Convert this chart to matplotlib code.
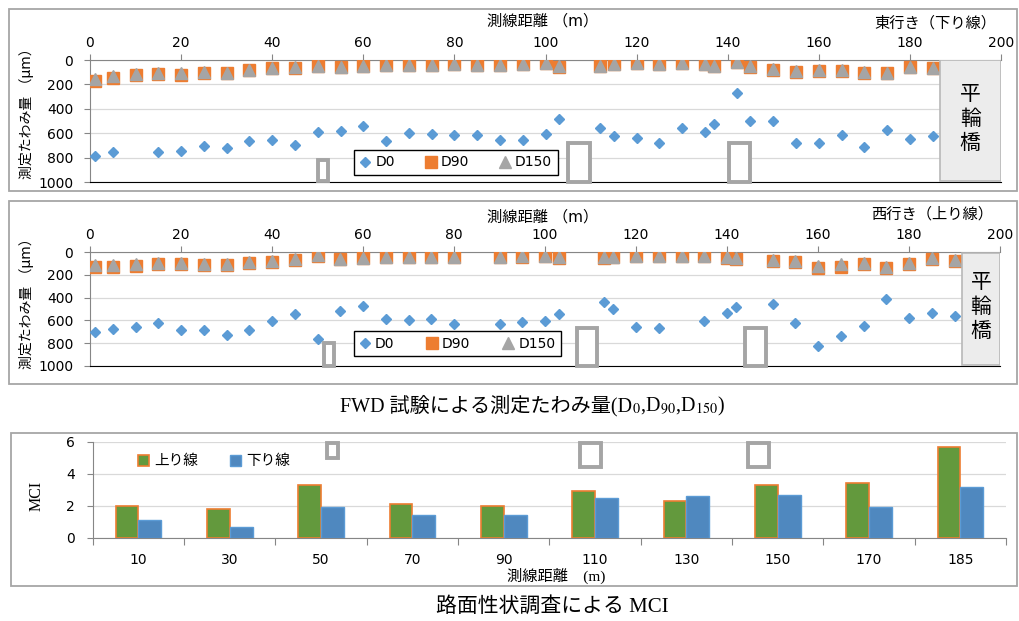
import numpy as np
import matplotlib.pyplot as plt
from matplotlib.patches import Rectangle
from matplotlib.lines import Line2D

plt.rcParams['font.family'] = ['DejaVu Sans', 'Noto Sans CJK JP']
plt.rcParams['mathtext.fontset'] = 'stix'

nan = np.nan

#----------------------------------
# 東行き（下り線） FWD deflections (um)
east_x = [1, 5, 10, 15, 20, 25, 30, 35, 40, 45, 50, 55, 60, 65, 70, 75, 80, 85, 90, 95, 100,
          103, 112, 115, 120, 125, 130, 135, 137, 142, 145, 150, 155, 160, 165, 170, 175, 180, 185]
east_d0 = [790, 755, nan, 755, 744, 709, 722, 668, 654, 695, 591, 578, 540, 660, 602, 605, 616, 613, 652, 652, 605,
           485, 559, 627, 640, 681, 559, 594, 526, 267, 499, 499, 681, 681, 613, 711, 575, 649, 621]
east_d90 = [172, 145, 123, 117, 123, 104, 109, 85, 68, 63, 49, 60, 49, 41, 44, 41, 33, 38, 41, 33, 27,
            55, 49, 33, 27, 33, 27, 33, 46, 19, 60, 82, 96, 90, 87, 109, 109, 55, 63]
east_d150 = [153, 131, 114, 109, 109, 96, 104, 83, 63, 55, 46, 55, 46, 41, 44, 41, 35, 38, 41, 33, 27,
             49, 49, 33, 27, 33, 27, 33, 46, 19, 52, 74, 87, 82, 82, 98, 104, 55, 63]

# 西行き（上り線）
west_x = [1, 5, 10, 15, 20, 25, 30, 35, 40, 45, 50, 55, 60, 65, 70, 75, 80, 90, 95, 100, 103,
          113, 115, 120, 125, 130, 135, 140, 142, 150, 155, 160, 165, 170, 175, 180, 185, 190]
west_d0 = [700, 676, 659, 624, 682, 685, 729, 685, 606, 544, 762, 515, 471, 588, 597, 591, 632, 635, 612, 603, 547,
           441, 500, 659, 665, nan, 603, 538, 479, 459, 626, 826, 735, 647, 409, 582, 532, 559]
west_d90 = [126, 126, 118, 103, 103, 112, 112, 94, 82, 65, 32, 62, 53, 44, 44, 44, 41, 41, 38, 35, 47,
            47, 41, 35, 35, 35, 35, 47, 62, 76, 85, 135, 126, 106, 141, 106, 62, 76]
west_d150 = [112, 115, 106, 94, 94, 103, 100, 85, 74, 59, 26, 59, 47, 41, 41, 41, 38, 38, 32, 29, 38,
             41, 38, 32, 32, 32, 32, 41, 53, 68, 76, 121, 106, 94, 126, 97, 53, 71]

# MCI
mci_labels = ['10', '30', '50', '70', '90', '110', '130', '150', '170', '185']
mci_up = [2.0, 1.8, 3.3, 2.1, 2.0, 2.9, 2.3, 3.3, 3.4, 5.7]
mci_down = [1.1, 0.7, 1.9, 1.4, 1.4, 2.5, 2.6, 2.7, 1.9, 3.2]

W, H = 1019, 621
fig = plt.figure(figsize=(W / 100, H / 100), dpi=100)


def fx(px):
    return px / W


def fy(py):
    return 1 - py / H


def frame(x0, y0, x1, y1):
    fig.add_artist(Rectangle((fx(x0), fy(y1)), fx(x1) - fx(x0), fy(y0) - fy(y1),
                             transform=fig.transFigure, fill=False, edgecolor='#a6a6a6', lw=1.3))


def gray_box(ax, x0, x1, y0, y1):
    ax.add_patch(Rectangle((x0, y0), x1 - x0, y1 - y0, facecolor='white', edgecolor='#a5a5a5',
                           lw=2.8, zorder=4, clip_on=False))


def deflection_chart(rect, x, d0, d90, d150, bridge_x0, boxes, legend_box):
    ax = fig.add_axes(rect)
    ax.plot(x, d90, 's', color='#ed7d31', ms=8.5, zorder=3)
    ax.plot(x, d150, '^', color='#a5a5a5', ms=8, zorder=3)
    ax.plot(x, d0, 'D', color='#5b9bd5', ms=5.4, zorder=3)
    ax.set_xlim(0, 200)
    ax.set_ylim(1000, 0)
    ax.set_xticks(np.arange(0, 201, 20))
    ax.set_yticks(np.arange(0, 1001, 200))
    ax.xaxis.tick_top()
    ax.tick_params(axis='x', length=4, width=0.8, color='#868686', pad=3.5, labelsize=10)
    ax.tick_params(axis='y', length=4, width=0.8, color='#868686', pad=8, labelsize=10)
    ax.grid(axis='y', color='#d9d9d9', lw=0.9)
    ax.set_axisbelow(True)
    ax.spines['top'].set_color('#868686')
    ax.spines['left'].set_color('#868686')
    ax.spines['right'].set_visible(False)
    ax.spines['bottom'].set_color('black')
    # bridge
    ax.add_patch(Rectangle((bridge_x0, 2), 200 - bridge_x0, 990, facecolor='#ececec',
                           edgecolor='#b8b8b8', lw=1.2, zorder=5))
    ax.text((bridge_x0 + 200) / 2, 480, '平\n輪\n橋', ha='center', va='center', fontsize=15,
            linespacing=1.15, family=['Noto Sans CJK JP'], zorder=6)
    for b in boxes:
        gray_box(ax, *b)
    handles = [Line2D([], [], ls='', marker='D', color='#5b9bd5', ms=5.4),
               Line2D([], [], ls='', marker='s', color='#ed7d31', ms=8.5),
               Line2D([], [], ls='', marker='^', color='#a5a5a5', ms=8)]
    leg = ax.legend(handles, ['D0', 'D90', 'D150'], ncol=3, loc='lower center',
                    bbox_to_anchor=legend_box, mode='expand', fontsize=10, handlelength=0.8,
                    handletextpad=0.3, borderpad=0.4, fancybox=False, framealpha=1,
                    edgecolor='black')
    leg.get_frame().set_linewidth(1.0)
    leg.set_zorder(6)
    return ax


#----------------------------------
# top: east-bound
frame(9, 9, 1017, 191)
ax1 = deflection_chart([fx(90), fy(182), fx(1001) - fx(90), fy(60) - fy(182)],
                       east_x, east_d0, east_d90, east_d150, 186.5,
                       [(50.0, 52.2, 820, 995), (104.9, 109.7, 681, 1000), (140.2, 144.8, 681, 1000)],
                       (0.2825, 0.0, 0.2385, 0.22))
fig.text(fx(543), fy(21), '測線距離 （m）', ha='center', va='center', fontsize=11)
fig.text(fx(996), fy(23), '東行き（下り線）', ha='right', va='center', fontsize=11)
fig.text(fx(27), fy(110), '測定たわみ量 （µm）', ha='center', va='center', rotation=90, fontsize=10)

# middle: west-bound
frame(9, 201, 1017, 384)
ax2 = deflection_chart([fx(90), fy(365.7), fx(1000) - fx(90), fy(252.3) - fy(365.7)],
                       west_x, west_d0, west_d90, west_d150, 191.6,
                       [(51.4, 53.6, 797, 1000), (107.0, 111.5, 665, 1000), (144.0, 148.5, 665, 1000)],
                       (0.282, 0.02, 0.243, 0.2))
fig.text(fx(543), fy(217), '測線距離 （m）', ha='center', va='center', fontsize=11)
fig.text(fx(993), fy(214), '西行き（上り線）', ha='right', va='center', fontsize=11)
fig.text(fx(27), fy(300), '測定たわみ量 （µm）', ha='center', va='center', rotation=90, fontsize=10)

# caption with subscripts: Japanese part + mathtext part, centred together
serif_jp = ['Liberation Serif', 'Noto Sans CJK JP']
cap1 = fig.text(0, fy(411), 'FWD 試験による測定たわみ量(D', ha='left', va='baseline',
                fontsize=14.5, family=serif_jp)
cap2 = fig.text(0, fy(411), '$_0$,D$_{90}$,D$_{150}$)', ha='left', va='baseline', fontsize=14.5,
                family='Liberation Serif')
r = fig.canvas.get_renderer()
w1 = cap1.get_window_extent(r).width
w2 = cap2.get_window_extent(r).width
left = 532 - (w1 + w2) / 2
cap1.set_x(fx(left))
cap2.set_x(fx(left + w1))

#----------------------------------
# bottom: MCI bars
frame(11, 433, 1017, 586)
ax3 = fig.add_axes([fx(92.7), fy(537.7), fx(1006) - fx(92.7), fy(441.7) - fy(537.7)])
idx = np.arange(len(mci_labels))
bw = 0.25
ax3.bar(idx - bw / 2, mci_up, bw, color='#63993d', edgecolor='#ed7d31', lw=1.2, label='上り線', zorder=3)
ax3.bar(idx + bw / 2, mci_down, bw, color='#4f88bf', edgecolor='#5b9bd5', lw=1.0, label='下り線', zorder=3)
ax3.set_xlim(-0.5, len(mci_labels) - 0.5)
ax3.set_ylim(0, 6)
ax3.set_yticks([0, 2, 4, 6])
ax3.set_xticks(idx)
ax3.set_xticklabels(mci_labels)
ax3.set_xticks(np.arange(-0.5, len(mci_labels), 1), minor=True)
ax3.tick_params(axis='x', which='major', length=0, pad=11, labelsize=10)
ax3.tick_params(axis='x', which='minor', length=5, width=0.8, color='#868686')
ax3.tick_params(axis='y', length=4, width=0.8, color='#868686', pad=9, labelsize=10)
ax3.grid(axis='y', color='#d9d9d9', lw=0.9)
ax3.set_axisbelow(True)
for s in ['top', 'right']:
    ax3.spines[s].set_visible(False)
ax3.spines['left'].set_color('#868686')
ax3.spines['bottom'].set_color('#868686')
ax3.legend(loc='center left', bbox_to_anchor=(0.035, 0.8), ncol=2, frameon=False, fontsize=10.5,
           handlelength=0.8, handleheight=0.8, handletextpad=0.3, columnspacing=2.2)
for b in [(2.06, 2.19, 5.0, 5.9), (4.84, 5.07, 4.44, 5.9), (6.67, 6.91, 4.44, 5.9)]:
    gray_box(ax3, *b)

fig.text(fx(556), fy(576), '測線距離　(m)', ha='center', va='center', fontsize=11,
         family=serif_jp)
fig.text(fx(37), fy(496), 'MCI', ha='center', va='center', rotation=90, fontsize=11.5,
         family=['Liberation Serif'])
fig.text(fx(552), fy(607), '路面性状調査による MCI', ha='center', va='center', fontsize=15,
         family=serif_jp)

fig.savefig('out.png', dpi=100)
